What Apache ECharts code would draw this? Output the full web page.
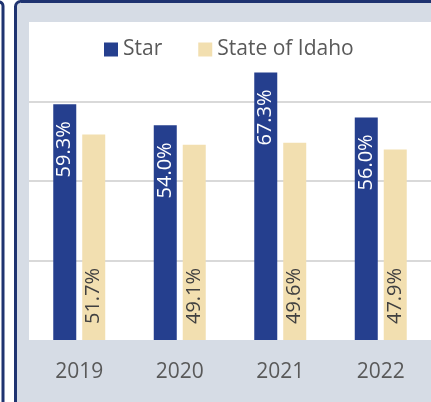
<!DOCTYPE html>
<html>
<head>
<meta charset="utf-8">
<script src="https://cdn.jsdelivr.net/npm/echarts@6/dist/echarts.min.js"></script>
<style>
  html, body { margin: 0; padding: 0; background: #fff; }
  #chart { width: 431px; height: 402px; }
</style>
</head>
<body>
<div id="chart"></div>
<script>
var years = ['2019', '2020', '2021', '2022'];
var starValues = [59.3, 54.0, 67.3, 56.0];
var idahoValues = [51.7, 49.1, 49.6, 47.9];
var yTicks = [0, 20, 40, 60, 80];

var navy = '#253f8e';
var tan = '#f2dfb0';
var font = 'Open Sans';

var myChart = echarts.init(document.getElementById('chart'));

var option = {
    backgroundColor: '#fff',
    textStyle: { fontFamily: font },
    graphic: [{
        type: 'rect',
        z: -10,
        shape: { x: -20, y: 2, width: 23, height: 430, r: 4 },
        style: { fill: '#fff', stroke: '#1f3370', lineWidth: 3 }
    }, {
        type: 'rect',
        z: -10,
        shape: { x: 15.5, y: 1.5, width: 500, height: 500, r: 5 },
        style: { fill: '#d6dce5', stroke: '#1f3370', lineWidth: 3 }
    }],
    legend: {
        left: 104,
        top: 39,
        padding: 0,
        itemWidth: 14,
        itemHeight: 14,
        itemGap: 36,
        icon: 'rect',
        textStyle: { fontSize: 21, color: '#595959', fontFamily: font },
        data: ['Star', 'State of Idaho']
    },
    grid: {
        show: true,
        left: 29,
        right: 0,
        top: 22,
        bottom: 62,
        backgroundColor: '#fff',
        borderWidth: 0
    },
    xAxis: {
        type: 'category',
        data: years,
        axisLine: { show: false },
        axisTick: { show: false },
        axisLabel: { fontSize: 21, color: '#595959', margin: 22, fontFamily: font }
    },
    yAxis: {
        type: 'value',
        min: yTicks[0],
        max: yTicks[yTicks.length - 1],
        interval: 20,
        axisLabel: { show: false },
        axisLine: { show: false },
        axisTick: { show: false },
        splitLine: { show: true, showMinLine: false, showMaxLine: false, lineStyle: { color: '#d9d9d9', width: 2 } }
    },
    series: [{
        name: 'Star',
        type: 'bar',
        data: starValues,
        barWidth: 23,
        barGap: '26%',
        itemStyle: { color: navy },
        label: {
            show: true,
            position: 'insideTop',
            rotate: 90,
            align: 'right',
            verticalAlign: 'middle',
            distance: 17,
            fontSize: 20,
            color: '#fff',
            fontFamily: font,
            formatter: function(p) { return p.value.toFixed(1) + '%'; }
        }
    }, {
        name: 'State of Idaho',
        type: 'bar',
        data: idahoValues,
        barWidth: 23,
        itemStyle: { color: tan },
        label: {
            show: true,
            position: 'insideBottom',
            rotate: 90,
            align: 'left',
            verticalAlign: 'middle',
            distance: 16,
            fontSize: 20,
            color: '#404040',
            fontFamily: font,
            formatter: function(p) { return p.value.toFixed(1) + '%'; }
        }
    }]
};

myChart.setOption(option);
</script>
</body>
</html>
